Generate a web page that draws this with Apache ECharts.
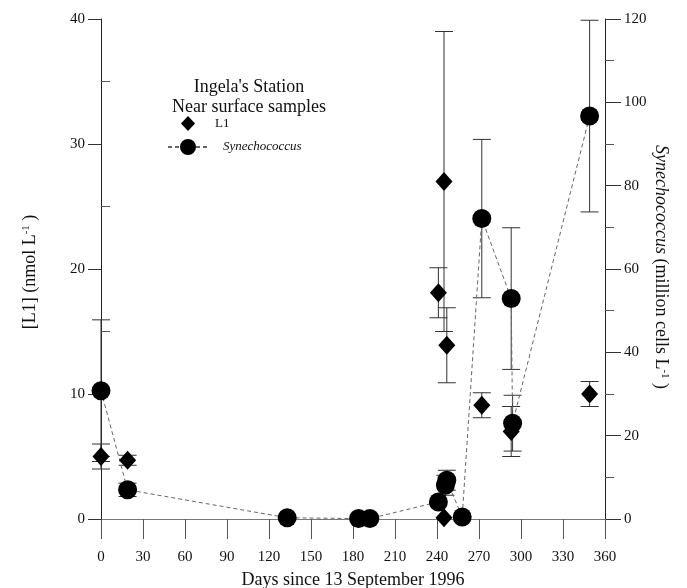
<!DOCTYPE html>
<html>
<head>
<meta charset="utf-8">
<script src="https://cdn.jsdelivr.net/npm/echarts@6/dist/echarts.min.js"></script>
<style>
  html, body { margin: 0; padding: 0; background: #fff; }
  #chart { width: 687px; height: 588px; }
</style>
</head>
<body>
<div id="chart"></div>
<script>
// L1 (left axis, nmol L-1)
const l1Days = [0, 19, 241, 245, 245, 247, 272, 293, 349];
const l1Vals = [5.0, 4.7, 18.1, 27.0, 0.1, 13.9, 9.1, 7.0, 10.0];
const l1Err  = [1.0, 0.4, 2.0, 12.0, 0, 3.0, 1.0, 2.0, 1.0];

// Synechococcus (right axis, million cells L-1)
const synDays = [0, 19, 133, 184, 192, 241, 246, 247, 258, 272, 293, 294, 349];
const synVals = [30.8, 7.0, 0.3, 0.1, 0.1, 4.1, 8.1, 9.3, 0.5, 72.1, 52.9, 23.0, 96.7];
const synErr  = [17, 1.6, 0, 0, 0, 0, 2.4, 2.4, 0, 19, 17, 6.7, 23];

const serif = 'Liberation Serif';

const chart = echarts.init(document.getElementById('chart'));

function pairs(xs, ys) {
    return xs.map((x, i) => [x, ys[i]]);
}
function bars(xs, ys, es) {
    const out = [];
    xs.forEach((x, i) => {
        if (es[i] > 0) out.push([x, ys[i] - es[i], ys[i] + es[i]]);
    });
    return out;
}

// error bar with caps
function renderBar(params, api) {
    const x = api.value(0);
    const top = api.coord([x, api.value(2)]);
    const bot = api.coord([x, api.value(1)]);
    const w = 9;
    const st = {stroke: '#333', lineWidth: 1};
    return {
        type: 'group',
        children: [
            {type: 'line', shape: {x1: top[0], y1: top[1], x2: bot[0], y2: bot[1]}, style: st},
            {type: 'line', shape: {x1: top[0] - w, y1: top[1], x2: top[0] + w, y2: top[1]}, style: st},
            {type: 'line', shape: {x1: bot[0] - w, y1: bot[1], x2: bot[0] + w, y2: bot[1]}, style: st}
        ]
    };
}

const labelStyle = {color: '#111', fontFamily: serif, fontSize: 15};
const legendText = {
    fontFamily: serif, fontSize: 13, color: '#111',
    rich: {i: {fontFamily: serif, fontSize: 13, fontStyle: 'italic', color: '#111'}}
};

const option = {
    backgroundColor: '#fff',
    animation: false,
    grid: {left: 101, right: 82, top: 19, bottom: 69, containLabel: false, outerBoundsMode: 'none'},
    graphic: [
        {
            type: 'text', x: 249, y: 77,
            style: {
                text: "Ingela's Station\nNear surface samples",
                textAlign: 'center',
                font: '18px "Liberation Serif"', lineHeight: 20, fill: '#111'
            }
        },
        {
            type: 'text', x: 30, y: 272, rotation: Math.PI / 2,
            style: {
                text: '{a|[L1] (nmol L}{s|-1}{a| )}',
                textAlign: 'center', textVerticalAlign: 'middle',
                rich: {
                    a: {fontFamily: serif, fontSize: 18, fill: '#111'},
                    s: {fontFamily: serif, fontSize: 11, fill: '#111', verticalAlign: 'top'}
                }
            }
        },
        {
            type: 'text', x: 661, y: 267, rotation: -Math.PI / 2,
            style: {
                text: '{i|Synechococcus}{a| (million cells L}{s|-1}{a| )}',
                textAlign: 'center', textVerticalAlign: 'middle',
                rich: {
                    i: {fontFamily: serif, fontSize: 18, fontStyle: 'italic', fill: '#111'},
                    a: {fontFamily: serif, fontSize: 18, fill: '#111'},
                    s: {fontFamily: serif, fontSize: 11, fill: '#111', verticalAlign: 'top'}
                }
            }
        }
    ],
    legend: [
        {
            left: 176, top: 111,
            itemWidth: 14, itemHeight: 15,
            data: ['L1'],
            textStyle: Object.assign({padding: [0, 0, 0, 15]}, legendText)
        },
        {
            left: 162, top: 134,
            itemWidth: 40, itemHeight: 20,
            data: ['Synechococcus'],
            textStyle: Object.assign({padding: [0, 0, 0, 10]}, legendText),
            formatter: name => '{i|' + name + '}'
        }
    ],
    xAxis: {
        type: 'value',
        min: 0, max: 360, interval: 30,
        name: 'Days since 13 September 1996',
        nameLocation: 'middle',
        nameGap: 52,
        nameTextStyle: {fontFamily: serif, fontSize: 18, color: '#111'},
        axisLine: {show: true, lineStyle: {color: '#777', width: 1}},
        axisTick: {show: true, length: 20, lineStyle: {color: '#555'}},
        axisLabel: Object.assign({margin: 31}, labelStyle),
        splitLine: {show: false}
    },
    yAxis: [
        {
            type: 'value', position: 'left',
            min: 0, max: 40, interval: 10,
            axisLine: {show: true, lineStyle: {color: '#222', width: 1}},
            axisTick: {show: true, length: 13, lineStyle: {color: '#333'}},
            axisLabel: Object.assign({margin: 16}, labelStyle),
            splitLine: {show: false}
        },
        {
            type: 'value', position: 'right',
            min: 0, max: 120, interval: 20,
            axisLine: {show: true, lineStyle: {color: '#222', width: 1}},
            axisTick: {show: true, length: 16, lineStyle: {color: '#333'}},
            minorTick: {show: true, splitNumber: 2, length: 9, lineStyle: {color: '#555'}},
            axisLabel: Object.assign({margin: 19}, labelStyle),
            splitLine: {show: false}
        },
        {
            // inside minor ticks on the left axis
            type: 'value', position: 'left',
            min: 0, max: 40, interval: 5,
            axisLine: {show: false},
            axisTick: {show: true, inside: true, length: 9, customValues: [5, 15, 25, 35], lineStyle: {color: '#555'}},
            axisLabel: {show: false},
            splitLine: {show: false}
        }
    ],
    series: [
        {
            name: 'L1 error',
            type: 'custom',
            yAxisIndex: 0,
            clip: false,
            renderItem: renderBar,
            data: bars(l1Days, l1Vals, l1Err),
            z: 1
        },
        {
            name: 'Syn error',
            type: 'custom',
            yAxisIndex: 1,
            clip: false,
            renderItem: renderBar,
            data: bars(synDays, synVals, synErr),
            z: 1
        },
        {
            name: 'Synechococcus',
            type: 'line',
            yAxisIndex: 1,
            clip: false,
            symbol: 'circle',
            symbolSize: 19,
            itemStyle: {color: '#000', opacity: 1},
            lineStyle: {color: '#666', width: 1, type: [4, 3]},
            data: pairs(synDays, synVals),
            z: 3
        },
        {
            name: 'L1',
            type: 'scatter',
            yAxisIndex: 0,
            clip: false,
            symbol: 'diamond',
            symbolSize: [17, 19],
            itemStyle: {color: '#000', opacity: 1},
            data: pairs(l1Days, l1Vals),
            z: 4
        }
    ]
};

chart.setOption(option);
</script>
</body>
</html>
